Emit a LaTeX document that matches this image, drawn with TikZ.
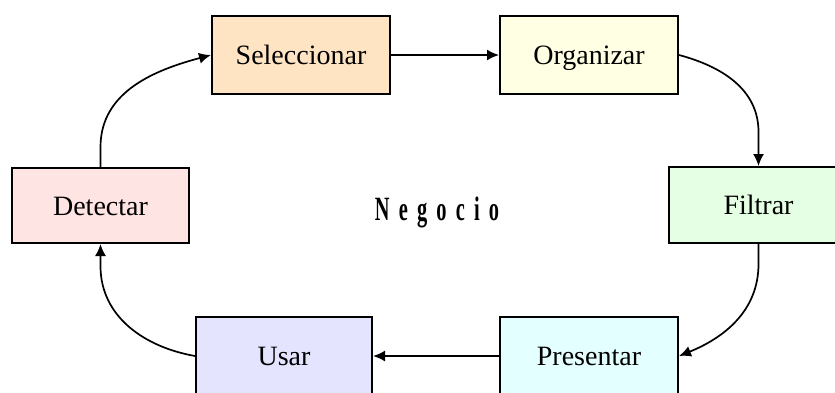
\documentclass[tikz,border=0pt]{standalone}
\usepackage{fontspec}
\setmainfont{Liberation Serif}
\newfontfamily\negfont[FakeStretch=0.6,LetterSpace=27]{Liberation Serif}
\usetikzlibrary{arrows.meta}
\definecolor{cSel}{RGB}{255,228,196}
\definecolor{cOrg}{RGB}{255,255,228}
\definecolor{cFil}{RGB}{228,255,228}
\definecolor{cPre}{RGB}{228,255,255}
\definecolor{cUsa}{RGB}{228,228,255}
\definecolor{cDet}{RGB}{255,228,228}
\begin{document}
\begin{tikzpicture}[x=1pt,y=1pt,
  box/.style={draw=black,line width=2pt,minimum width=178pt,minimum height=78pt,inner sep=0pt,text height=22pt,text depth=3pt,font=\fontsize{28}{30}\selectfont},
  arr/.style={line width=1.7pt,-{Latex[length=12pt,width=11pt]}}]
\useasboundingbox (0,0) rectangle (835,-392);
\node[box,fill=cSel] (sel) at (301,-55) {Seleccionar};
\node[box,fill=cOrg] (org) at (589,-55) {Organizar};
\node[box,fill=cFil,minimum width=179pt,minimum height=76pt] (fil) at (758.5,-205) {Filtrar};
\node[box,fill=cPre] (pre) at (589,-356) {Presentar};
\node[box,fill=cUsa,minimum width=176pt] (usa) at (284,-356) {Usar};
\node[box,fill=cDet,minimum width=177pt,minimum height=75pt] (det) at (100.5,-205.5) {Detectar};
\node (neg) at (437,-212) {\negfont\bfseries\fontsize{34}{36}\selectfont Negocio};
\draw[arr] (sel.east) -- (org.west);
\draw[arr] (org.east) to[out=-15,in=90] ([yshift=34pt]fil.north) -- (fil.north);
\draw[arr] (fil.south) -- ([yshift=-20pt]fil.south) to[out=-90,in=22] (pre.east);
\draw[arr] (pre.west) -- (usa.east);
\draw[arr] (usa.west) to[out=170,in=-90] ([yshift=-22pt]det.south) -- (det.south);
\draw[arr] (det.north) -- ([yshift=20pt]det.north) to[out=90,in=195] (sel.west);
\end{tikzpicture}
\end{document}
